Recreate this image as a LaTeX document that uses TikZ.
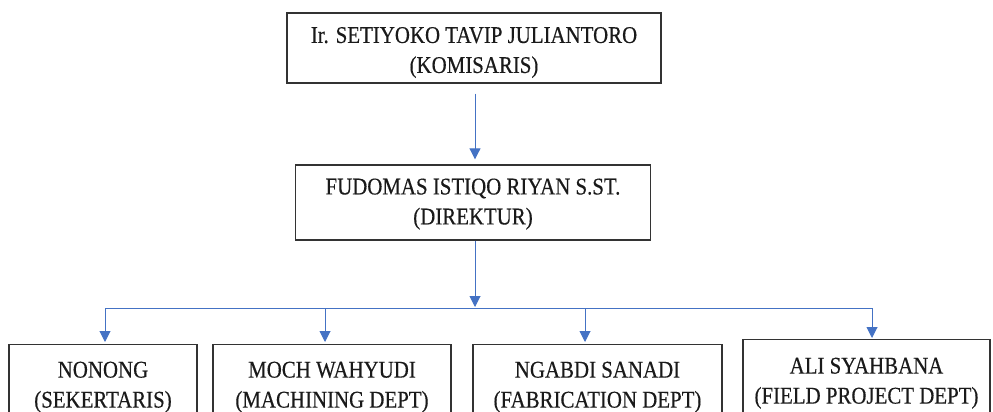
\documentclass[tikz,border=0pt]{standalone}
\usepackage{fontspec}
\setmainfont{Liberation Serif}[FakeStretch=0.87,FakeBold=0.4]
\usetikzlibrary{arrows.meta}
\definecolor{lineblue}{HTML}{4472C4}
\definecolor{boxgray}{HTML}{333333}
\definecolor{textgray}{HTML}{1A1A1A}
\tikzset{
  box/.style={draw=boxgray, line width=1.4pt, align=center, inner sep=0pt,
    text=textgray, font=\fontsize{24}{30}\selectfont},
  link/.style={draw=lineblue, line width=1pt},
  arr/.style={link, -{Triangle[width=11pt,length=11pt]}}
}
\begin{document}
\begin{tikzpicture}[x=1pt,y=-1pt]
\useasboundingbox (0,0) rectangle (993,412);
\clip (0,0) rectangle (993,412);
\node[box, minimum width=374pt, minimum height=70pt] (kom) at (474,48)
  {\rule{0pt}{25pt}Ir. SETIYOKO TAVIP JULIANTORO\\(KOMISARIS)};
\node[box, minimum width=355pt, minimum height=75pt] (dir) at (473,202.5)
  {\rule{0pt}{19pt}FUDOMAS ISTIQO RIYAN S.ST.\\(DIREKTUR)};
\node[box, minimum width=188pt, minimum height=85pt, anchor=north] (b1) at (103,344)
  {NONONG\\(SEKERTARIS)};
\node[box, minimum width=238pt, minimum height=85pt, anchor=north] (b2) at (332,344)
  {MOCH WAHYUDI\\(MACHINING DEPT)};
\node[box, minimum width=249pt, minimum height=85pt, anchor=north] (b3) at (597.5,344)
  {NGABDI SANADI\\(FABRICATION DEPT)};
\node[box, minimum width=247pt, minimum height=87pt, anchor=north] (b4) at (866.5,339)
  {ALI SYAHBANA\\(FIELD PROJECT DEPT)};
\coordinate (bar) at (475,308);
\coordinate (t1) at (105,308);
\coordinate (t2) at (325,308);
\coordinate (t3) at (585,308);
\coordinate (t4) at (872,308);
\draw[arr, shorten <=10pt, shorten >=5pt] (kom.south -| bar) -- (dir.north -| bar);
\draw[arr, shorten >=1pt] (dir.south -| bar) -- (bar);
\draw[link] (t1) -- (t4);
\draw[arr, shorten >=2pt] (t1) -- (t1 |- b1.north);
\draw[arr, shorten >=2pt] (t2) -- (t2 |- b2.north);
\draw[arr, shorten >=2pt] (t3) -- (t3 |- b3.north);
\draw[arr, shorten >=1pt] (t4) -- (t4 |- b4.north);
\end{tikzpicture}
\end{document}
